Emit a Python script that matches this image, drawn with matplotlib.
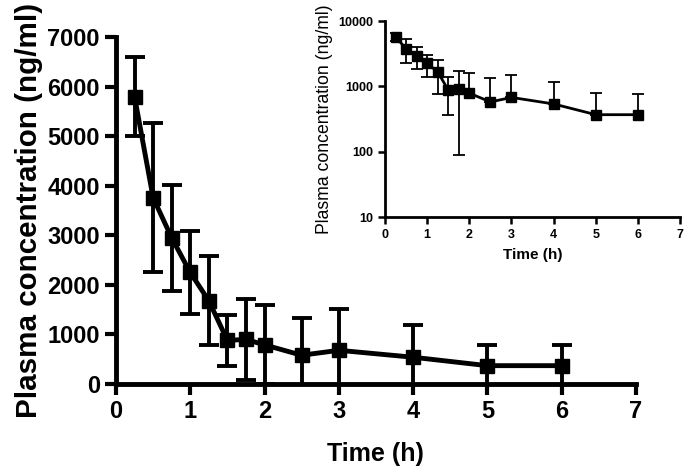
import numpy as np
import matplotlib.pyplot as plt

# Mean plasma concentration with SD
time_h = [0.25, 0.5, 0.75, 1.0, 1.25, 1.5, 1.75, 2.0, 2.5, 3.0, 4.0, 5.0, 6.0]
conc = [5800, 3760, 2950, 2250, 1680, 880, 900, 790, 580, 680, 540, 370, 370]
sd = [790, 1500, 1070, 830, 900, 520, 810, 800, 750, 830, 650, 420, 410]

plt.rcParams['font.family'] = ['Liberation Sans', 'DejaVu Sans']

fig = plt.figure(figsize=(6.85, 4.70), dpi=100)

# main linear plot
ax = fig.add_axes([0.1693, 0.183, 0.759, 0.738])
ax.errorbar(time_h, conc, yerr=sd, color='black', lw=3.5, marker='s', ms=10.5,
            elinewidth=2.8, capsize=7.5, capthick=2.8, zorder=3)
ax.set_xlim(0, 7)
ax.set_ylim(0, 7000)
ax.set_xticks(range(0, 8))
ax.set_yticks(range(0, 7001, 1000))
for s in ['top', 'right']:
    ax.spines[s].set_visible(False)
for s in ['left', 'bottom']:
    ax.spines[s].set_linewidth(3.5)
ax.tick_params(width=3, length=8, labelsize=17)
for lab in ax.get_xticklabels() + ax.get_yticklabels():
    lab.set_fontweight('bold')
ax.set_xlabel('Time (h)', fontsize=18, fontweight='bold', labelpad=14)
ax.set_ylabel('Plasma concentration (ng/ml)', fontsize=21.3, fontweight='bold', labelpad=3)

# inset log plot: lower bars that would go below zero are left out
c = np.array(conc)
e = np.array(sd)
lower = np.where(c - e > 0, e, 0)
ins = fig.add_axes([0.562, 0.538, 0.431, 0.417])
ins.errorbar(time_h, conc, yerr=[lower, e], color='black', lw=2, marker='s', ms=7,
             elinewidth=1.3, capsize=4, capthick=1.3, zorder=3)
ins.set_yscale('log')
ins.set_xlim(0, 7)
ins.set_ylim(10, 10000)
ins.set_xticks(range(0, 8))
ins.set_yticks([10, 100, 1000, 10000])
ins.set_yticklabels(['10', '100', '1000', '10000'])
ins.minorticks_off()
for s in ['top', 'right']:
    ins.spines[s].set_visible(False)
for s in ['left', 'bottom']:
    ins.spines[s].set_linewidth(2)
ins.tick_params(width=1.8, length=5, labelsize=9)
for lab in ins.get_xticklabels() + ins.get_yticklabels():
    lab.set_fontweight('bold')
ins.set_xlabel('Time (h)', fontsize=11, fontweight='bold', labelpad=5)
ins.set_ylabel('Plasma concentration (ng/ml)', fontsize=12.7, labelpad=4)

fig.savefig('out.png', dpi=100)
